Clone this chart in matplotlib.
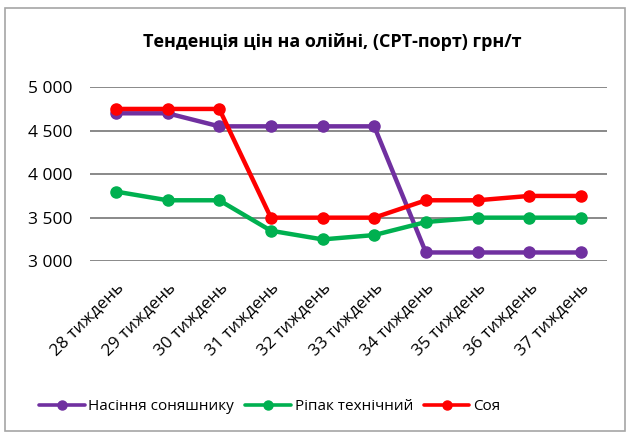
import matplotlib
matplotlib.use("Agg")
import matplotlib.pyplot as plt
from matplotlib.patches import Rectangle

plt.rcParams['font.family'] = ['Open Sans', 'DejaVu Sans']

categories = ["28 тиждень", "29 тиждень", "30 тиждень", "31 тиждень", "32 тиждень",
              "33 тиждень", "34 тиждень", "35 тиждень", "36 тиждень", "37 тиждень"]
sunflower = [4700, 4700, 4550, 4550, 4550, 4550, 3100, 3100, 3100, 3100]
rapeseed = [3800, 3700, 3700, 3350, 3250, 3300, 3450, 3500, 3500, 3500]
soy = [4750, 4750, 4750, 3500, 3500, 3500, 3700, 3700, 3750, 3750]
series_names = ["Насіння соняшнику", "Ріпак технічний", "Соя"]
colors = ["#7030A0", "#00B050", "#FF0000"]
yticks = [3000, 3500, 4000, 4500, 5000]
ytick_labels = ["3 000", "3 500", "4 000", "4 500", "5 000"]

fig = plt.figure(figsize=(6.3, 4.36), dpi=100)
fig.patches.append(Rectangle((0.008, 0.012), 0.984, 0.97, transform=fig.transFigure,
                             fill=False, edgecolor="#A6A6A6", linewidth=1.2))
ax = fig.add_axes([0.143, 0.401, 0.820, 0.399])
x = list(range(len(categories)))
handles = []
for data, name, c in zip([sunflower, rapeseed, soy], series_names, colors):
    ax.plot(x, data, color=c, linewidth=3.2, marker='o', markersize=8,
            solid_capstyle='round', zorder=3)
    h, = ax.plot([], [], color=c, linewidth=2.6, marker='o', markersize=6.5,
                 solid_capstyle='round', label=name)
    handles.append(h)
ax.set_xlim(-0.5, len(categories) - 0.5)
ax.set_ylim(3000, 5000)
ax.set_yticks(yticks)
ax.set_yticklabels(ytick_labels, fontsize=12.5)
ax.set_xticks(x)
ax.set_xticklabels(categories, rotation=45, ha='right', rotation_mode='anchor', fontsize=12.3)
ax.tick_params(axis='y', length=0, pad=13)
ax.tick_params(axis='x', length=0, pad=13)
ax.grid(axis='y', color='#898989', linewidth=1.4, zorder=0)
for s in ax.spines.values():
    s.set_visible(False)
fig.text(0.527, 0.904, "Тенденція цін на олійні, (СРТ-порт) грн/т", ha='center', va='center',
         fontsize=13, fontweight='bold')
fig.legend(handles=handles, loc='center', bbox_to_anchor=(0.428, 0.067), ncol=3, frameon=False,
           fontsize=11, handlelength=3.0, columnspacing=0.7, handletextpad=0.25)
fig.savefig("out.png", dpi=100)
